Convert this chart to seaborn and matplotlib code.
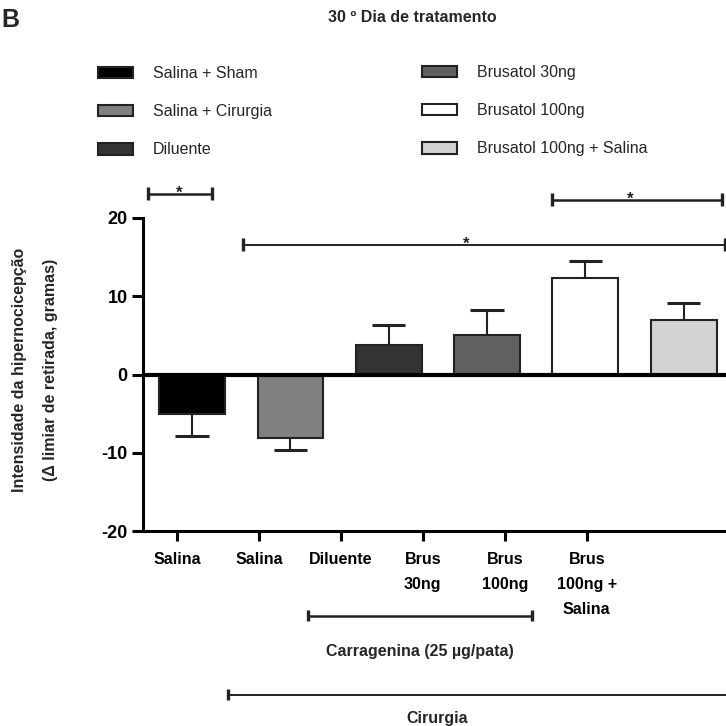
import numpy as np
import pandas as pd
import seaborn as sns
import matplotlib
matplotlib.use("Agg")
import matplotlib.pyplot as plt
from matplotlib.patches import Patch

sns.set_theme(style="white")
plt.rcParams['font.family'] = ['Liberation Sans', 'DejaVu Sans']

# data (mean and one-sided error)
groups = ['Salina + Sham', 'Salina + Cirurgia', 'Diluente',
          'Brusatol 30ng', 'Brusatol 100ng', 'Brusatol 100ng + Salina']
means = [-5.0, -8.1, 3.8, 5.0, 12.3, 7.0]
errors = [2.8, 1.6, 2.5, 3.2, 2.2, 2.1]
colors = ['#000000', '#808080', '#333333', '#606060', '#ffffff', '#d3d3d3']
tick_labels = ['Salina', 'Salina', 'Diluente', 'Brus\n30ng', 'Brus\n100ng',
               'Brus\n100ng +\nSalina']
yticks = [-20, -10, 0, 10, 20]

df = pd.DataFrame({'grupo': groups, 'media': means})

W = 726
fig = plt.figure(figsize=(7.26, 7.26), dpi=100)
ax = fig.add_axes([143 / W, 1 - 531 / W, (W - 143) / W, (531 - 218) / W])

sns.barplot(data=df, x='grupo', y='media', hue='grupo', order=groups,
            hue_order=groups, palette=colors, saturation=1, width=0.67,
            edgecolor='#222222', linewidth=1.5, legend=False, ax=ax)

# one-sided error bars (away from zero), cap only at the outer end
xpos = np.arange(len(groups))
ends = [m + e if m > 0 else m - e for m, e in zip(means, errors)]
ax.vlines(xpos, means, ends, color='#222222', lw=1.5, zorder=0.5)
ax.hlines(ends, xpos - 0.17, xpos + 0.17, color='#222222', lw=2.2,
          zorder=0.5)

ax.axhline(0, color='black', lw=3, zorder=3)
ax.set_xlim(-0.5, 5.43)
ax.set_ylim(-20, 20)
ax.set_xticks([])
ax.set_xlabel('')
ax.set_ylabel('')
ax.set_yticks(yticks, labels=[str(t) for t in yticks], fontweight='bold',
              fontsize=13)
ax.tick_params(axis='y', left=True, length=8, width=2.2, direction='out',
               pad=3, colors='black')
ax.spines[['top', 'right']].set_visible(False)
for s in ['left', 'bottom']:
    ax.spines[s].set_linewidth(2.2)
    ax.spines[s].set_color('black')

# category labels sit on their own spacing
ax2 = ax.twiny()
ax2.set_xlim(-0.415, 6.7)
ax2.xaxis.set_ticks_position('bottom')
ax2.set_xticks(range(len(tick_labels)), labels=tick_labels,
               fontweight='bold', fontsize=11.5, linespacing=1.85)
ax2.tick_params(axis='x', bottom=True, top=False, length=7, width=2.2,
                pad=8, colors='black')
for s in ax2.spines.values():
    s.set_visible(False)


def bracket(x0, x1, y, h, lw=1.8, star=None, xs=None):
    kw = dict(color='#222222', clip_on=False, solid_capstyle='butt')
    ax.plot([x0, x1], [y, y], lw=lw, **kw)
    ax.plot([x0, x0], [y - h, y + h], lw=2.4, **kw)
    ax.plot([x1, x1], [y - h, y + h], lw=2.4, **kw)
    if star:
        ax.text(xs, y + 0.1, star, ha='center', va='center', fontsize=12,
                fontweight='bold', color='#222222')


bracket(-0.447, 0.203, 23.1, 0.8, star='*', xs=-0.13)
bracket(0.518, 5.417, 16.6, 0.8, lw=1.4, star='*', xs=2.785)
bracket(3.66, 5.386, 22.35, 0.8, star='*', xs=4.46)
bracket(1.18, 3.455, -30.8, 0.7)
bracket(0.366, 5.6, -40.9, 0.7, lw=1.4)
ax.text(2.32, -35.4, 'Carragenina (25 µg/pata)', ha='center', va='center',
        fontsize=11.5, fontweight='bold')
ax.text(2.49, -43.9, 'Cirurgia', ha='center', va='center', fontsize=11.5,
        fontweight='bold')

# legend in two columns
handles = [Patch(facecolor=c, edgecolor='#222222', linewidth=1.5)
           for c in colors]
for i, (x0, y0) in enumerate([(98, 66), (422, 65)]):
    fig.legend(handles[3 * i:3 * i + 3], groups[3 * i:3 * i + 3],
               loc='upper left', bbox_to_anchor=(x0 / W, 1 - y0 / W),
               frameon=False, fontsize=11.5, borderpad=0, borderaxespad=0,
               handlelength=2.2, handleheight=0.75, handletextpad=1.25,
               labelspacing=1.45)

fig.text(412 / W, 1 - 18 / W, '30 º Dia de tratamento', ha='center',
         va='center', fontsize=11.5, fontweight='bold')
fig.text(1 / W, 1 - 20 / W, 'B', ha='left', va='center', fontsize=18,
         fontweight='bold')
fig.text(20 / W, 1 - 370 / W, 'Intensidade da hipernocicepção', rotation=90,
         ha='center', va='center', fontsize=11.5, fontweight='bold')
fig.text(51 / W, 1 - 370 / W, '(Δ limiar de retirada, gramas)', rotation=90,
         ha='center', va='center', fontsize=11.5, fontweight='bold')

fig.savefig('out.png', dpi=100)
